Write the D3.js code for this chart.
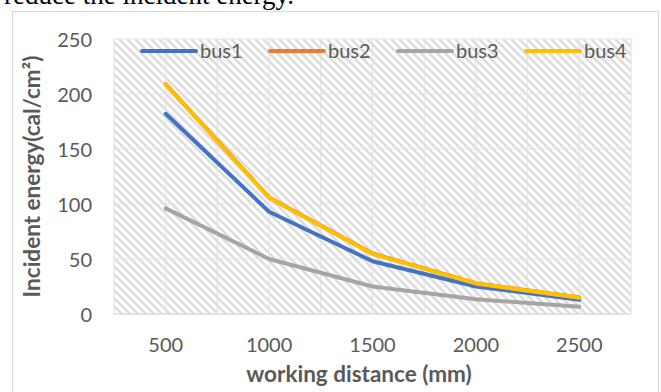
<!DOCTYPE html>
<html>
<head>
<meta charset="utf-8">
<script src="https://cdn.jsdelivr.net/npm/d3@7"></script>
<style>
  html, body { margin: 0; padding: 0; background: #fff; }
  svg { display: block; }
</style>
</head>
<body>
<script>
// Working distance categories (mm)
const categories = ["500", "1000", "1500", "2000", "2500"];
// Incident energy per bus (cal/cm²)
const bus1 = [182, 93, 48, 25, 13];
const bus2 = [209, 106, 55, 28, 15];
const bus3 = [96, 50, 25, 13.5, 6.5];
const bus4 = [208.5, 105.5, 54.5, 27.8, 14.8];
const seriesNames = ["bus1", "bus2", "bus3", "bus4"];
const seriesColors = ["#4472C4", "#ED7D31", "#A5A5A5", "#FFC000"];
const yTicks = [0, 50, 100, 150, 200, 250];

const W = 661, H = 392;
const plot = { left: 114, right: 631, top: 39, bottom: 314 };
const font = "Lato, Calibri, 'Open Sans', sans-serif";
const textColor = "#595959";

const svg = d3.select("body").append("svg")
  .attr("width", W).attr("height", H);

// Wide downward diagonal fill for the plot area
const defs = svg.append("defs");
const pat = defs.append("pattern")
  .attr("id", "hatch").attr("patternUnits", "userSpaceOnUse")
  .attr("width", 8).attr("height", 8);
pat.append("rect").attr("width", 8).attr("height", 8).attr("fill", "#fff");
pat.append("path")
  .attr("d", "M-2,-2 L10,10 M-2,6 L2,10 M6,-2 L10,2")
  .attr("stroke", "#dcdcdc").attr("stroke-width", 2.4);

// Surrounding document text line above the chart
svg.append("text")
  .attr("x", 4).attr("y", 4)
  .attr("font-family", "'Liberation Serif', 'Times New Roman', serif")
  .attr("font-size", 27).attr("fill", "#000")
  .text("reduce the incident energy.");

// Chart frame
svg.append("rect")
  .attr("x", 12.5).attr("y", 11.5).attr("width", 646).attr("height", 400)
  .attr("fill", "#fff").attr("stroke", "#d9d9d9").attr("stroke-width", 1);

const x = d3.scaleBand().domain(categories).range([plot.left, plot.right]);
const y = d3.scaleLinear().domain([0, 250]).range([plot.bottom, plot.top]);
const cx = c => x(c) + x.bandwidth() / 2;

// Plot area fill
svg.append("rect")
  .attr("x", plot.left).attr("y", plot.top)
  .attr("width", plot.right - plot.left).attr("height", plot.bottom - plot.top)
  .attr("fill", "url(#hatch)");

// Gridlines: horizontal at each tick, vertical at band edges and centres
const grid = svg.append("g").attr("stroke", "#e3e3e3").attr("stroke-width", 1.2);
yTicks.forEach(t => {
  grid.append("line")
    .attr("x1", plot.left).attr("x2", plot.right)
    .attr("y1", y(t)).attr("y2", y(t));
});
const vx = [];
categories.forEach(c => { vx.push(x(c)); vx.push(cx(c)); });
vx.push(plot.right);
vx.forEach(v => {
  grid.append("line")
    .attr("x1", v).attr("x2", v)
    .attr("y1", plot.top).attr("y2", plot.bottom);
});
// Category axis line
svg.append("line")
  .attr("x1", plot.left).attr("x2", plot.right)
  .attr("y1", plot.bottom).attr("y2", plot.bottom)
  .attr("stroke", "#d9d9d9").attr("stroke-width", 1.2);

// Value axis labels
const yAxis = d3.axisLeft(y).tickValues(yTicks).tickSize(0).tickPadding(0);
const gy = svg.append("g").attr("transform", `translate(92,0)`).call(yAxis);
gy.select(".domain").remove();
gy.selectAll("text")
  .attr("font-family", font).attr("font-size", 20).attr("fill", textColor)
  .attr("dy", "0.35em");

// Category axis labels
const xAxis = d3.axisBottom(x).tickSize(0).tickPadding(0);
const gx = svg.append("g").attr("transform", `translate(0,${plot.bottom})`).call(xAxis);
gx.select(".domain").remove();
gx.selectAll("text")
  .attr("font-family", font).attr("font-size", 20).attr("fill", textColor)
  .attr("dy", null).attr("y", 38);

// Axis titles
svg.append("text")
  .attr("x", 359).attr("y", 382)
  .attr("text-anchor", "middle")
  .attr("font-family", font).attr("font-size", 22.5).attr("font-weight", "bold")
  .attr("fill", textColor)
  .text("working distance (mm)");

svg.append("text")
  .attr("transform", `translate(40,${(plot.top + plot.bottom) / 2}) rotate(-90)`)
  .attr("text-anchor", "middle")
  .attr("font-family", font).attr("font-size", 22.5).attr("font-weight", "bold")
  .attr("fill", textColor)
  .text("Incident energy(cal/cm²)");

// Series lines
const data = [bus1, bus2, bus3, bus4];
const line = d3.line().x((d, i) => cx(categories[i])).y(d => y(d));
data.forEach((vals, k) => {
  svg.append("path")
    .datum(vals)
    .attr("d", line)
    .attr("fill", "none")
    .attr("stroke", seriesColors[k])
    .attr("stroke-width", 4)
    .attr("stroke-linejoin", "round")
    .attr("stroke-linecap", "round");
});

// Legend
const legend = svg.append("g").attr("transform", "translate(142,51)");
seriesNames.forEach((name, k) => {
  const g = legend.append("g").attr("transform", `translate(${k * 128},0)`);
  g.append("line")
    .attr("x1", 0).attr("x2", 54).attr("y1", 0).attr("y2", 0)
    .attr("stroke", seriesColors[k]).attr("stroke-width", 4)
    .attr("stroke-linecap", "round");
  g.append("text")
    .attr("x", 58).attr("y", 0).attr("dy", "0.35em")
    .attr("font-family", font).attr("font-size", 20).attr("fill", textColor)
    .text(name);
});
</script>
</body>
</html>
